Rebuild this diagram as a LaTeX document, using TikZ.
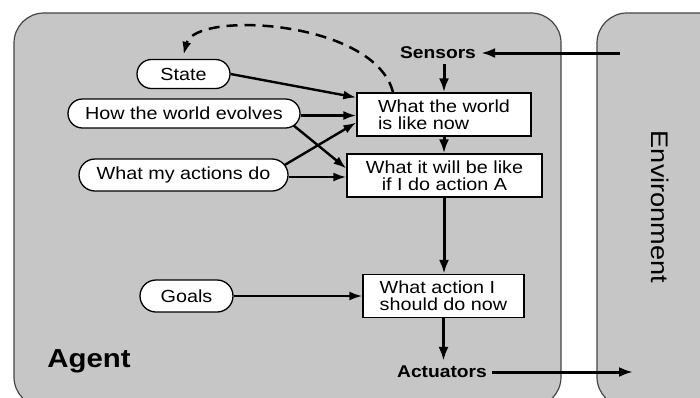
\documentclass[tikz,border=0pt]{standalone}
\usepackage{fontspec}
\setmainfont[FakeStretch=1.13]{Liberation Sans}
\usetikzlibrary{arrows.meta,shapes.misc}
\definecolor{panel}{RGB}{198,198,198}
\definecolor{rim}{RGB}{70,70,70}

\begin{document}
\begin{tikzpicture}[x=1pt,y=-1pt,
  font=\fontsize{17.5}{17}\selectfont,
  pill/.style={rounded rectangle, draw=black, line width=1.3pt, fill=white,
    inner sep=0pt, minimum height=29pt},
  infobox/.style={rectangle, draw=black, line width=1.3pt, fill=white,
    inner sep=0pt, minimum height=43pt},
  port/.style={font=\fontsize{17}{17}\selectfont\bfseries, inner sep=5pt},
  flow/.style={line width=3pt, -{Latex[length=14pt,width=10pt]}},
  feed/.style={line width=2.4pt, -{Latex[length=13pt,width=9pt]}},
  panelbox/.style={draw=rim, line width=1.2pt, fill=panel, rounded corners=30pt}]

% canvas
\useasboundingbox (0,0) rectangle (700,397);
\fill[white] (0,0) rectangle (700,397);
\clip (0,0) rectangle (700,397);

% agent and environment panels
\draw[panelbox] (14,13) rectangle (561,407);
\draw[panelbox] (597,13) rectangle (770,407);

% knowledge nodes
\node[pill, minimum width=93pt] (state) at (183.5,74) {State};
\node[pill, minimum width=232pt] (evolves) at (184,113.5) {How the world evolves};
\node[pill, minimum width=209pt, minimum height=32pt] (actions) at (183.5,175) {What my actions do};
\node[pill, minimum width=93pt, minimum height=32pt] (goals) at (186.5,296) {Goals};

% reasoning boxes
\node[infobox, minimum width=174pt, align=left] (world) at (444,114.5) {What the world\\is like now};
\node[infobox, minimum width=195pt, align=center] (predict) at (444.5,175.5) {What it will be like\\if I do action A};
\node[infobox, minimum width=161pt, align=left] (decide) at (443.5,296) {What action I\\should do now};

% interface labels
\node[port] (sensors) at (438,53) {Sensors};
\node[port] (actuators) at (442,372) {Actuators};
\node[font=\fontsize{26}{26}\selectfont\bfseries] (agent) at (89,361) {Agent};
\node[rotate=-90, font=\fontsize{24}{24}\selectfont] (env) at (660,207) {Environment};

\coordinate (envin) at (620,53);
\coordinate (envout) at (633,372);

% main flow
\draw[flow] (envin) -- (sensors.east);
\draw[flow] (world |- sensors.south) -- (world.north);
\draw[flow] (world.south) -- (world.south |- predict.north);
\draw[flow] (world.south |- predict.south) -- (world.south |- decide.north);
\draw[flow] (decide.south) -- (decide.south |- actuators.north);
\draw[flow] (actuators.east) -- (envout);

% knowledge feeding the boxes
\draw[feed] (state.east) -- ([yshift=17pt]world.west);
\draw[feed] ([yshift=-2pt]evolves.east) -- ([yshift=-2pt]evolves.east -| world.west);
\draw[feed] ([xshift=-7pt,yshift=-12pt]evolves.east) -- ([yshift=7pt]predict.west);
\draw[feed] ([xshift=-4pt,yshift=10pt]actions.east) -- ([yshift=-8pt]world.west);
\draw[feed] ([yshift=-2pt]actions.east) -- ([yshift=-2pt]actions.east -| predict.west);
\draw[feed] (goals.east) -- (goals.east -| decide.west);

% state update loop
\draw[line width=2.5pt, dash pattern=on 11pt off 7pt, -{Latex[length=13pt,width=9pt]}]
  ([xshift=-51pt]world.north) .. controls (375,20) and (195,10) .. ([yshift=4pt]state.north);
\end{tikzpicture}
\end{document}
